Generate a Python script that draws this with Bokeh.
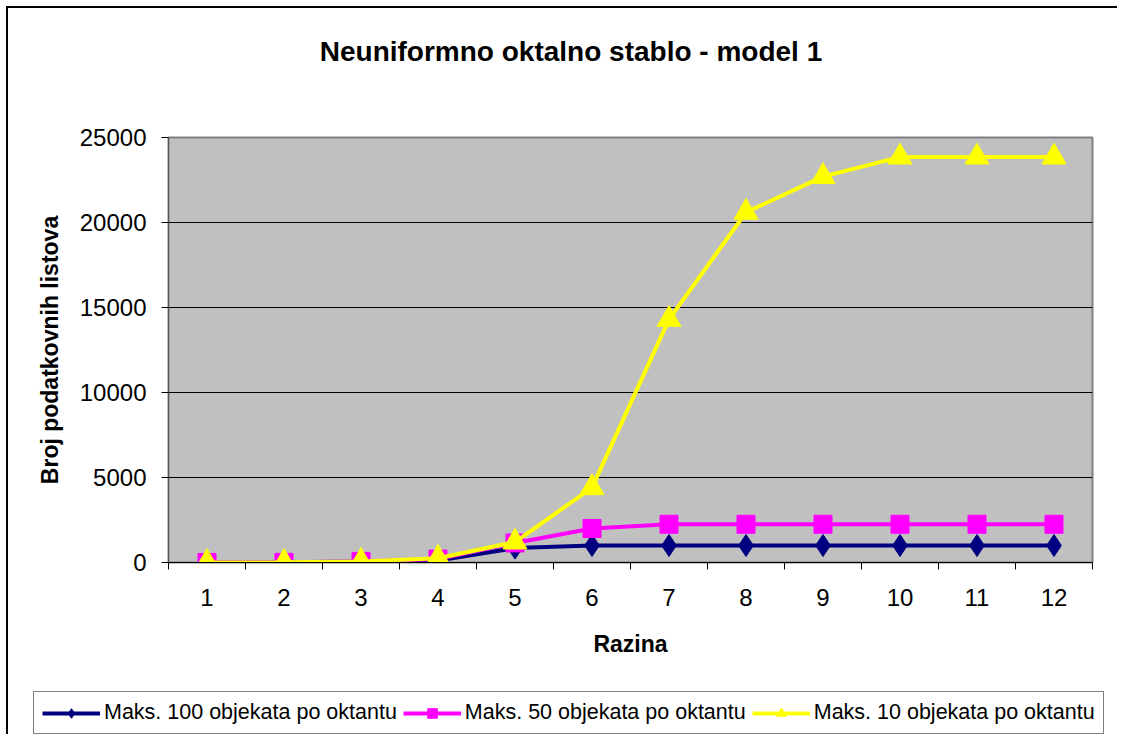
from bokeh.plotting import figure
from bokeh.models import FixedTicker, Range1d, Legend, LegendItem, Div
from bokeh.layouts import column
from bokeh.embed import file_html
from bokeh.resources import INLINE

levels = [1, 2, 3, 4, 5, 6, 7, 8, 9, 10, 11, 12]
max100 = [1, 8, 57, 120, 850, 1000, 1000, 1000, 1000, 1000, 1000, 1000]
max50 = [1, 8, 64, 200, 1150, 2000, 2250, 2250, 2250, 2250, 2250, 2250]
max10 = [1, 8, 64, 250, 1200, 4400, 14300, 20600, 22700, 23850, 23850, 23850]
names = ["Maks. 100 objekata po oktantu", "Maks. 50 objekata po oktantu", "Maks. 10 objekata po oktantu"]
y_ticks = [0, 5000, 10000, 15000, 20000, 25000]
title_text = "Neuniformno oktalno stablo - model 1"

FONT = "Liberation Sans"
W = 1109

title_div = Div(
    text=title_text, width=W, height=80,
    styles={"font-family": "'Liberation Sans'", "font-weight": "bold", "font-size": "28px",
            "color": "black", "text-align": "center", "line-height": "34px",
            "padding-top": "27px", "padding-left": "17px", "box-sizing": "border-box",
            "overflow": "hidden", "margin": "0"})

p = figure(width=W, height=594, output_backend="svg", toolbar_location=None,
           x_range=Range1d(0.5, 12.5), y_range=Range1d(0, 25000),
           min_border_left=160, min_border_right=25, min_border_top=49, min_border_bottom=120)
p.frame_align = False

p.background_fill_color = "#C0C0C0"
p.border_fill_color = "white"
p.outline_line_color = "#808080"
p.outline_line_width = 2

# x axis
p.xaxis.ticker = FixedTicker(ticks=levels, minor_ticks=[i + 0.5 for i in range(0, 13)])
p.xaxis.major_tick_out = 0
p.xaxis.major_tick_in = 0
p.xaxis.minor_tick_out = 7
p.xaxis.minor_tick_in = 0
p.xaxis.minor_tick_line_color = "black"
p.xaxis.axis_line_color = "black"
p.xaxis.axis_line_width = 1
p.xaxis.major_label_text_font = FONT
p.xaxis.major_label_text_font_size = "24px"
p.xaxis.major_label_text_color = "black"
p.xaxis.major_label_standoff = 19
p.xaxis.axis_label = "Razina"
p.xaxis.axis_label_text_font = FONT
p.xaxis.axis_label_text_font_size = "23px"
p.xaxis.axis_label_text_font_style = "bold"
p.xaxis.axis_label_text_color = "black"
p.xaxis.axis_label_standoff = 22

# y axis
p.yaxis.ticker = FixedTicker(ticks=y_ticks)
p.yaxis.minor_tick_line_color = None
p.yaxis.major_tick_out = 7
p.yaxis.major_tick_in = 0
p.yaxis.axis_line_color = "#555555"
p.yaxis.major_label_text_font = FONT
p.yaxis.major_label_text_font_size = "24px"
p.yaxis.major_label_text_color = "black"
p.yaxis.major_label_standoff = 15
p.yaxis.axis_label = "Broj podatkovnih listova"
p.yaxis.axis_label_text_font = FONT
p.yaxis.axis_label_text_font_size = "23px"
p.yaxis.axis_label_text_font_style = "bold"
p.yaxis.axis_label_text_color = "black"
p.yaxis.axis_label_standoff = 14

p.xgrid.grid_line_color = None
p.ygrid.grid_line_color = "black"
p.ygrid.grid_line_width = 1

colors = ["#000080", "#FF00FF", "#FFFF00"]
markers = ["diamond", "square", "triangle"]
sizes = [22, 18, 24]
series = [max100, max50, max10]

# legend figure: its glyphs lie outside its visible range, only the legend shows
lf = figure(width=W, height=52, output_backend="svg", toolbar_location=None,
            x_range=Range1d(100, 101), y_range=Range1d(100, 101),
            x_axis_type=None, y_axis_type=None,
            min_border=0, min_border_left=0, min_border_right=0, min_border_top=0, min_border_bottom=0)
lf.frame_align = False
lf.outline_line_color = None
lf.xgrid.visible = False
lf.ygrid.visible = False
lf.background_fill_color = "white"
lf.border_fill_color = "white"

items = []
for vals, c, m, s, n in zip(series, colors, markers, sizes, names):
    p.line(levels, vals, line_color=c, line_width=4)
    p.scatter(levels, vals, marker=m, size=s, fill_color=c, line_color=c)
    ll = lf.line(levels, vals, line_color=c, line_width=4)
    ls = lf.scatter(levels, vals, marker=m, size=s * 0.7, fill_color=c, line_color=c)
    items.append(LegendItem(label=n, renderers=[ll, ls]))

legend = Legend(items=items, orientation="horizontal", location=(25, 0),
                label_text_font=FONT, label_text_font_size="21.5px", label_text_color="black",
                glyph_width=58, glyph_height=24, label_height=24, label_standoff=4, spacing=6,
                padding=8, margin=0, border_line_color="black", border_line_width=1,
                background_fill_alpha=1, background_fill_color="white")
lf.add_layout(legend, "center")

layout = column(title_div, p, lf, spacing=0,
                styles={"margin-left": "6px", "margin-top": "6px",
                        "border-left": "2px solid black", "border-top": "2px solid black"})

open("out.html", "w").write(file_html(layout, INLINE))
